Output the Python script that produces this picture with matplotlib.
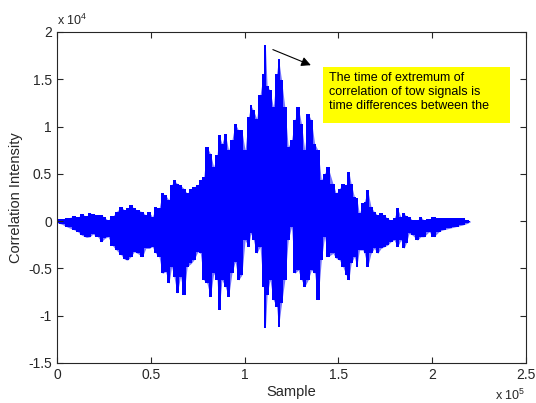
import matplotlib

matplotlib.use("Agg")
import matplotlib.pyplot as plt
from matplotlib.patches import Rectangle

# envelope of the correlation trace
sample = [
    0, 2490, 5990, 9530, 11120, 13080, 15730, 17480, 19070, 21720,
    23680, 25430, 27170, 29820, 31620, 34270, 36020, 37610, 39360, 41160,
    42910, 45560, 47300, 49100, 50850, 52600, 54400, 56150, 57900, 59700,
    61070, 62350, 64090, 65840, 67640, 69390, 71510, 72940, 75060, 76440,
    78240, 79980, 81730, 83530, 85280, 86500, 87930, 89680, 91480, 93230,
    94970, 96770, 98520, 100270, 102070, 103290, 104720, 106470, 108220, 110020,
    111080, 112000, 113520, 115320, 117060, 118120, 119710, 121460, 123260, 125010,
    126760, 128560, 130310, 132050, 133850, 135600, 137350, 139150, 140900, 142650,
    144450, 147100, 148850, 150590, 152390, 154140, 155570, 156790, 158540, 159810,
    161190, 162990, 163830, 165640, 167390, 169130, 170930, 172680, 174430, 176230,
    177980, 179730, 181530, 183280, 185020, 186200, 187670, 189470, 192120, 193870,
    195620, 198270, 200910, 203560, 205360, 208860, 212410, 215960, 218610, 220350,
]
upper = [
    176, 246, 352, 528, 387, 739, 528, 880, 739, 669,
    634, 387, 106, 528, 986, 1514, 1162, 1338, 1690, 1338,
    1162, 986, 634, 986, 458, 1443, 1338, 2922, 2746, 2218,
    3802, 4330, 3978, 3802, 3450, 2922, 3450, 3626, 3802, 4330,
    4682, 7850, 7146, 5738, 6970, 9082, 8202, 9258, 7498, 8554,
    10314, 9610, 9610, 7498, 11018, 12250, 11722, 10842, 13306, 15594,
    18600, 14300, 13834, 12074, 15594, 17178, 14890, 12074, 7850, 8554,
    10666, 12074, 10314, 7498, 11370, 10666, 8202, 7498, 4330, 5034,
    5738, 3978, 2922, 3450, 3978, 3802, 5210, 3978, 2570, 2394,
    810, 1866, 2042, 3274, 1514, 986, 634, 810, 634, 282,
    106, 282, 1338, 458, 810, 550, 458, 106, 106, 458,
    106, 176, 387, 282, 282, 282, 282, 282, 106, 0,
]
lower = [
    -176, -317, -669, -950, -1126, -1478, -1725, -1654, -1373, -1654,
    -2182, -1830, -1654, -2640, -3062, -3590, -4048, -4118, -3766, -3238,
    -3414, -3766, -2886, -2886, -2710, -3414, -3766, -5526, -5350, -6582,
    -4822, -5878, -7638, -5878, -7814, -4822, -4470, -4118, -3238, -3414,
    -6230, -6582, -7990, -5526, -6230, -9398, -6230, -6934, -7990, -5526,
    -4294, -6230, -5702, -2006, -2710, -1302, -2006, -3414, -2710, -6934,
    -11300, -7800, -6230, -8342, -9046, -11158, -8694, -6230, -2006, -598,
    -5526, -5174, -6230, -6934, -6230, -5174, -5526, -8342, -4118, -1654,
    -3766, -3414, -3942, -4118, -4822, -5702, -6230, -4470, -3766, -4822,
    -3062, -3062, -3414, -4822, -3414, -2886, -3414, -2886, -2710, -2534,
    -2182, -2006, -2710, -2006, -2886, -2300, -1302, -1478, -2006, -1654,
    -1654, -1126, -1654, -1126, -950, -774, -598, -422, -246, -70,
]

x_ticks = [0, 50000, 100000, 150000, 200000, 250000]
x_tick_labels = ["0", "0.5", "1", "1.5", "2", "2.5"]
y_ticks = [-15000, -10000, -5000, 0, 5000, 10000, 15000, 20000]
y_tick_labels = ["-1.5", "-1", "-0.5", "0", "0.5", "1", "1.5", "2"]

note = ("The time of extremum of\n"
        "correlation of tow signals is\n"
        "time differences between the")

plt.rcParams.update({
    "font.family": ["Liberation Sans", "DejaVu Sans"],
    "font.size": 10,
    "text.color": "#262626",
    "axes.labelcolor": "#262626",
    "xtick.color": "#262626",
    "ytick.color": "#262626",
    "xtick.direction": "in",
    "ytick.direction": "in",
    "mathtext.fontset": "custom",
    "mathtext.rm": "Liberation Sans",
})

fig = plt.figure(figsize=(5.36, 4.03), dpi=100)
ax = fig.add_axes([0.1063, 0.0993, 0.8750, 0.8213])

ax.fill_between(sample, lower, upper, step="mid", color="#0000ff", lw=0)
ax.fill_between(sample, lower, upper, color="#0000ff", alpha=0.55, lw=0)

ax.set_xlim(0, 250000)
ax.set_ylim(-15000, 20000)
ax.set_xticks(x_ticks)
ax.set_xticklabels(x_tick_labels)
ax.set_yticks(y_ticks)
ax.set_yticklabels(y_tick_labels)
ax.tick_params(top=True, right=True, length=4, width=0.8, labelsize=10)
for s in ax.spines.values():
    s.set_linewidth(0.8)
    s.set_color("#262626")

ax.set_xlabel("Sample", fontsize=10.5, labelpad=2)
ax.set_ylabel("Correlation Intensity", fontsize=10.5, labelpad=4)

ax.text(0.0, 1.012, r"x 10$^{4}$", transform=ax.transAxes,
        fontsize=9, ha="left", va="bottom")
ax.text(0.998, -0.075, r"x 10$^{5}$", transform=ax.transAxes,
        fontsize=9, ha="right", va="top")

ax.annotate("", xy=(136700, 16380), xytext=(113700, 18250),
            arrowprops=dict(arrowstyle="-|>", color="black", lw=0.8,
                            mutation_scale=14))
ax.add_patch(Rectangle((0.567, 0.724), 0.400, 0.171, transform=ax.transAxes,
                       facecolor="#ffff00", edgecolor="none", zorder=3))
ax.text(0.579, 0.878, note, transform=ax.transAxes, fontsize=9,
        ha="left", va="top", linespacing=1.2, color="black", zorder=4)

fig.savefig("out.png", dpi=100)
